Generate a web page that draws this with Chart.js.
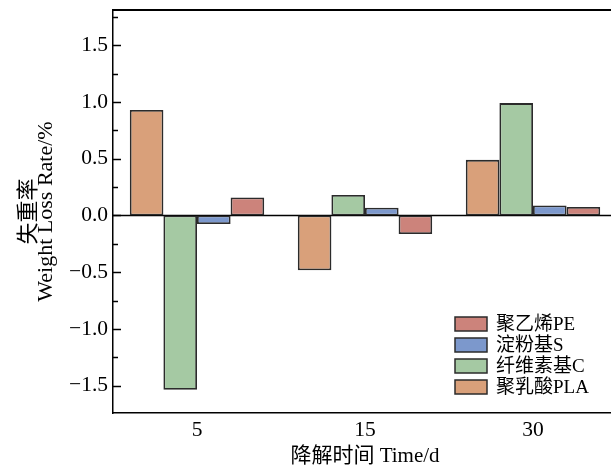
<!DOCTYPE html>
<html><head><meta charset="utf-8">
<script src="https://cdn.jsdelivr.net/npm/chart.js@4/dist/chart.umd.min.js"></script>
<style>html,body{margin:0;padding:0;overflow:hidden;background:#fff}#wrap{width:617px;height:469px}</style>
</head><body><div id="wrap"><canvas id="c" width="617" height="469"></canvas></div>
<script>
const categories = ['5', '15', '30'];
const seriesNames = ['聚乳酸PLA', '纤维素基C', '淀粉基S', '聚乙烯PE'];
const plaValues = [0.93, -0.483, 0.49];
const celluloseValues = [-1.535, 0.18, 0.99];
const starchValues = [-0.075, 0.068, 0.088];
const peValues = [0.158, -0.163, 0.075];
const yTickValues = [-1.5, -1.0, -0.5, 0, 0.5, 1.0, 1.5];
const yMinorTickValues = [-1.75, -1.25, -0.75, -0.25, 0.25, 0.75, 1.25, 1.75];
const xTitle = '降解时间 Time/d';
const yTitle = ['失重率', 'Weight Loss Rate/%'];

const colors = ['#D9A07A', '#A5C9A3', '#7C98CC', '#CC837B'];
const serif = '"Liberation Serif", "Times New Roman", "Noto Sans CJK SC", serif';

const frame = {
  id: 'frame',
  beforeDatasetsDraw(chart) {
    const {ctx, chartArea: a, scales: {y}} = chart;
    ctx.save();
    ctx.strokeStyle = '#000';
    ctx.lineWidth = 1.5;
    const z = y.getPixelForValue(0);
    ctx.beginPath(); ctx.moveTo(a.left, z); ctx.lineTo(a.right, z); ctx.stroke();
    ctx.restore();
  },
  afterDraw(chart) {
    const {ctx, chartArea: a, scales: {y}} = chart;
    ctx.save();
    ctx.strokeStyle = '#000';
    ctx.lineWidth = 2;
    ctx.beginPath(); ctx.moveTo(a.left, a.top); ctx.lineTo(a.right, a.top); ctx.stroke();
    ctx.lineWidth = 1.5;
    yTickValues.forEach(v => {
      const p = Math.round(y.getPixelForValue(v)) + 0.5;
      ctx.beginPath(); ctx.moveTo(a.left, p); ctx.lineTo(a.left + 8, p); ctx.stroke();
    });
    yMinorTickValues.forEach(v => {
      if (v < y.min || v > y.max) return;
      const p = Math.round(y.getPixelForValue(v)) + 0.5;
      ctx.beginPath(); ctx.moveTo(a.left, p); ctx.lineTo(a.left + 5, p); ctx.stroke();
    });
    // legend (reversed order)
    const ds = chart.data.datasets.slice().reverse();
    ctx.font = '19px ' + serif;
    ctx.textBaseline = 'middle';
    ctx.textAlign = 'left';
    ds.forEach((d, i) => {
      const cy = 324 + i * 21;
      ctx.fillStyle = d.backgroundColor;
      ctx.fillRect(455, cy - 7, 32, 14);
      ctx.strokeStyle = '#2b2b2b';
      ctx.lineWidth = 1.5;
      ctx.strokeRect(455, cy - 7, 32, 14);
      ctx.fillStyle = '#000';
      ctx.fillText(d.label, 496, cy + 1);
    });
    ctx.restore();
  }
};

const seriesValues = [plaValues, celluloseValues, starchValues, peValues];

new Chart(document.getElementById('c'), {
  type: 'bar',
  data: {
    labels: categories,
    datasets: seriesNames.map((n, i) => ({
      label: n,
      data: seriesValues[i],
      backgroundColor: colors[i],
      borderColor: '#2b2b2b',
      borderWidth: 1.8,
      borderSkipped: false,
      categoryPercentage: 0.8,
      barPercentage: 1.0
    }))
  },
  options: {
    responsive: false,
    devicePixelRatio: 1,
    animation: false,
    layout: {padding: {top: 10, left: 0, right: 0, bottom: 0}},
    plugins: {legend: {display: false}, tooltip: {enabled: false}},
    scales: {
      x: {
        grid: {display: false, drawTicks: false},
        border: {display: true, color: '#000', width: 1.5},
        ticks: {color: '#000', font: {family: serif, size: 21.5}, padding: 4, maxRotation: 0},
        title: {display: true, text: xTitle, color: '#000', font: {family: serif, size: 21, lineHeight: 1.1}, padding: {top: 0, bottom: 1}},
        afterFit(s) { s.height = 56; s.paddingLeft = 0; s.paddingRight = 0; }
      },
      y: {
        min: -1.74, max: 1.81,
        grid: {display: false, drawTicks: false},
        border: {display: true, color: '#000', width: 1.5},
        afterBuildTicks(s) { s.ticks = yTickValues.map(v => ({value: v})); },
        ticks: {
          color: '#000', font: {family: serif, size: 21.5}, padding: 5,
          callback: v => (v < 0 ? '\u2212' : '') + Math.abs(v).toFixed(1)
        },
        title: {display: true, text: yTitle, color: '#000', font: {family: serif, size: 22, lineHeight: 0.773}, padding: {top: 20.5, bottom: 0}},
        afterFit(s) { s.width = 113; s.paddingTop = 0; s.paddingBottom = 0; }
      }
    }
  },
  plugins: [frame]
});
</script>
</body></html>
